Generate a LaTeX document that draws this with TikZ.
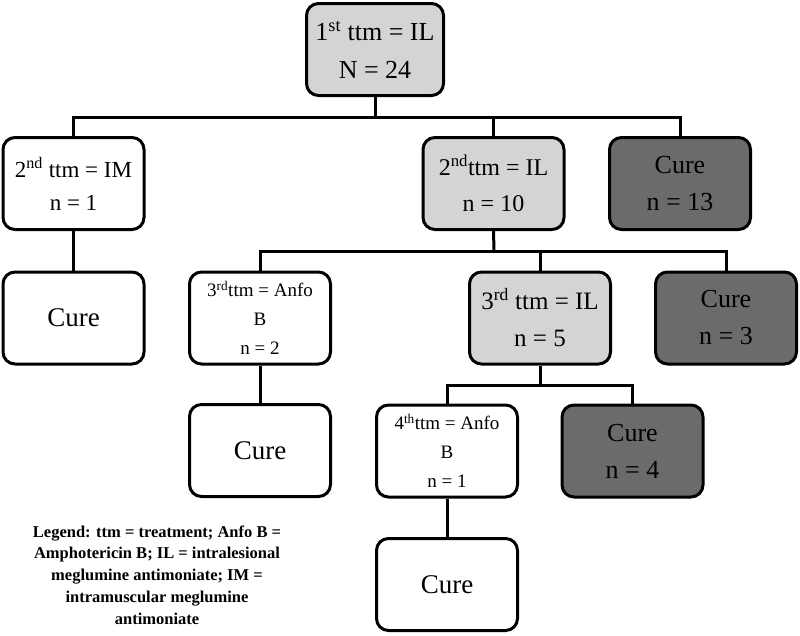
\documentclass[tikz,border=0pt]{standalone}
\usepackage{fontspec}
\setmainfont{Liberation Serif}
\definecolor{lightbox}{HTML}{D4D4D4}
\definecolor{darkbox}{HTML}{6B6B6B}
\tikzset{
  box/.style={draw=black, line width=3pt, rounded corners=12pt, minimum width=141pt, minimum height=92pt, align=center, inner sep=2pt, fill=white},
  lightfill/.style={fill=lightbox},
  darkfill/.style={fill=darkbox},
  conn/.style={line width=3pt},
  bigtxt/.style={font=\fontsize{26}{38}\selectfont},
  midtxt/.style={font=\fontsize{23}{33}\selectfont},
  iltxt/.style={font=\fontsize{24}{36}\selectfont},
  darktxt/.style={font=\fontsize{26}{37}\selectfont},
  smalltxt/.style={font=\fontsize{19}{29}\selectfont},
  curetxt/.style={font=\fontsize{27}{33}\selectfont},
}
\begin{document}
\begin{tikzpicture}[x=1pt,y=-1pt]
\useasboundingbox (0,0) rectangle (800,635);
% nodes
\node[box, lightfill, bigtxt, minimum width=137pt] (top) at (375,49.5) {1\textsuperscript{st} ttm = IL\\N = 24};
\node[box, midtxt] (n2a) at (73.5,183.5) {2\textsuperscript{nd} ttm = IM\\n = 1};
\node[box, lightfill, iltxt] (n2b) at (493.5,183.5) {2\textsuperscript{nd}ttm = IL\\n = 10};
\node[box, darkfill, darktxt] (n2c) at (680,183.5) {Cure\\n = 13};
\node[box, curetxt] (c3a) at (73.5,318) {Cure};
\node[box, smalltxt] (n3b) at (260,318) {3\textsuperscript{rd}ttm = Anfo\\B\\n = 2};
\node[box, lightfill, font=\fontsize{25}{37}\selectfont] (n3c) at (540,318) {3\textsuperscript{rd} ttm = IL\\n = 5};
\node[box, darkfill, darktxt] (c3d) at (726,318) {Cure\\n = 3};
\node[box, curetxt] (c4a) at (260,450.5) {Cure};
\node[box, smalltxt] (n4b) at (447,451) {4\textsuperscript{th}ttm = Anfo\\B\\n = 1};
\node[box, darkfill, darktxt] (c4c) at (632.5,451) {Cure\\n = 4};
\node[box, curetxt] (c5) at (447,584.5) {Cure};
% bus points
\coordinate (b1) at (375,117);
\coordinate (b2) at (494,251);
\coordinate (b3) at (540,385);
% connectors
\draw[conn] (top) -- (b1);
\draw[conn] (b1) -| (n2a);
\draw[conn] (b1) -| (n2b);
\draw[conn] (b1) -| (n2c);
\draw[conn] (n2b.south) -- (b2);
\draw[conn] (b2) -| (n3b);
\draw[conn] (b2) -| (n3c);
\draw[conn] (b2) -| (c3d);
\draw[conn] (n2a) -- (c3a);
\draw[conn] (n3b) -- (c4a);
\draw[conn] (n3c) -- (b3);
\draw[conn] (b3) -| (n4b);
\draw[conn] (b3) -| (c4c);
\draw[conn] (n4b) -- (c5);
% legend
\node[align=center, font=\bfseries\fontsize{16.5}{21.8}\selectfont, inner sep=0pt] (legend) at (157,575) {Legend: ttm = treatment; Anfo B =\\Amphotericin B; IL = intralesional\\meglumine antimoniate; IM =\\intramuscular meglumine\\antimoniate};
\end{tikzpicture}
\end{document}
